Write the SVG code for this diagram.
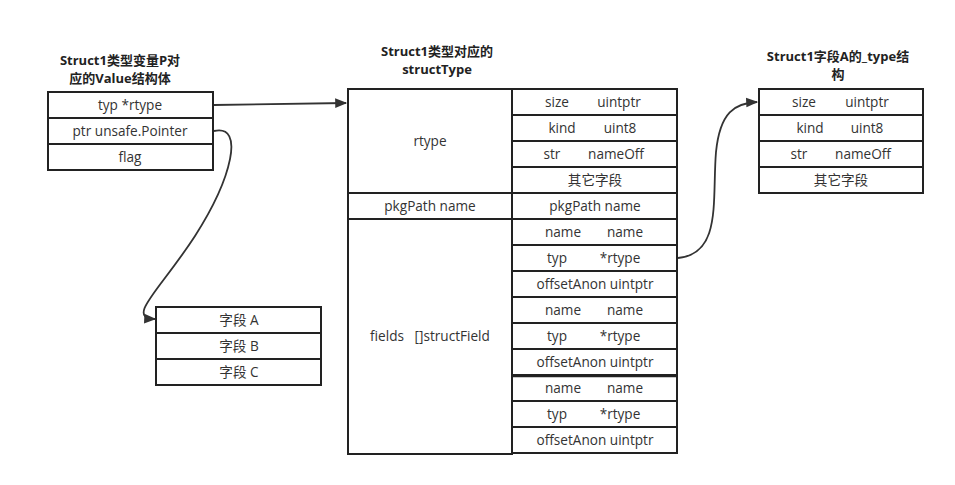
<svg xmlns="http://www.w3.org/2000/svg" width="955" height="485" viewBox="0 0 955 485">
<style>
text{font-family:"Open Sans","Noto Sans CJK SC",sans-serif;font-size:13.6px;fill:#333;text-anchor:middle}
.t{font-weight:bold;fill:#222;font-size:13px}
.c{fill:#fff;stroke:#222;stroke-width:2}
.ln{fill:none;stroke:#222;stroke-width:1.5}
.con{fill:none;stroke:#333;stroke-width:1.8}
</style>
<defs>
<marker id="ah2" viewBox="0 0 10 10" refX="9" refY="5" markerWidth="16" markerHeight="12" markerUnits="userSpaceOnUse" orient="auto"><path d="M0,1 L10,5 L0,9 z" fill="#333"/></marker>
</defs>
<rect width="955" height="485" fill="#fff"/>

<g id="valueStruct">
<text class="t" x="120" y="65">Struct1类型变量P对</text>
<text class="t" x="120" y="83">应的Value结构体</text>
<rect class="c" x="48" y="92" width="165" height="26"/>
<rect class="c" x="48" y="118" width="165" height="26"/>
<rect class="c" x="48" y="144" width="165" height="26"/>
<text x="130" y="110">typ *rtype</text>
<text x="130" y="136">ptr unsafe.Pointer</text>
<text x="130" y="162">flag</text>
</g>

<g id="structType">
<text class="t" x="437" y="56">Struct1类型对应的</text>
<text class="t" x="437" y="74">structType</text>
<rect class="c" x="348" y="89" width="164" height="104"/>
<rect class="c" x="348" y="193" width="164" height="26"/>
<rect class="c" x="348" y="219" width="164" height="235"/>
<text x="430" y="146">rtype</text>
<text x="430" y="211">pkgPath name</text>
<text x="430" y="341" xml:space="preserve">fields   []structField</text>
<g>
<rect class="c" x="512" y="89" width="165" height="26"/>
<rect class="c" x="512" y="115" width="165" height="26"/>
<rect class="c" x="512" y="141" width="165" height="26"/>
<rect class="c" x="512" y="167" width="165" height="26"/>
<rect class="c" x="512" y="193" width="165" height="26"/>
<rect class="c" x="512" y="219" width="165" height="26"/>
<rect class="c" x="512" y="245" width="165" height="26"/>
<rect class="c" x="512" y="271" width="165" height="26"/>
<rect class="c" x="512" y="297" width="165" height="26"/>
<rect class="c" x="512" y="323" width="165" height="26"/>
<rect class="c" x="512" y="349" width="165" height="26"/>
<rect class="c" x="512" y="375" width="165" height="26"/>
<rect class="c" x="512" y="401" width="165" height="26"/>
<rect class="c" x="512" y="427" width="165" height="26"/>
<line class="ln" x1="512" y1="376.5" x2="677" y2="376.5"/>
</g>
<text><tspan x="557" y="107">size</tspan><tspan x="619" y="107">uintptr</tspan></text>
<text><tspan x="562" y="133">kind</tspan><tspan x="620" y="133">uint8</tspan></text>
<text><tspan x="552" y="159">str</tspan><tspan x="616" y="159">nameOff</tspan></text>
<text x="595" y="185">其它字段</text>
<text x="595" y="211">pkgPath name</text>
<text><tspan x="563" y="237">name</tspan><tspan x="625" y="237">name</tspan></text>
<text><tspan x="557" y="263">typ</tspan><tspan x="620" y="263">*rtype</tspan></text>
<text x="595" y="289">offsetAnon uintptr</text>
<text><tspan x="563" y="315">name</tspan><tspan x="625" y="315">name</tspan></text>
<text><tspan x="557" y="341">typ</tspan><tspan x="620" y="341">*rtype</tspan></text>
<text x="595" y="367">offsetAnon uintptr</text>
<text><tspan x="563" y="393">name</tspan><tspan x="625" y="393">name</tspan></text>
<text><tspan x="557" y="419">typ</tspan><tspan x="620" y="419">*rtype</tspan></text>
<text x="595" y="445">offsetAnon uintptr</text>
</g>

<g id="fieldType">
<text class="t" x="838" y="61">Struct1字段A的_type结</text>
<text class="t" x="838" y="79">构</text>
<rect class="c" x="759" y="89" width="164" height="26"/>
<rect class="c" x="759" y="115" width="164" height="26"/>
<rect class="c" x="759" y="141" width="164" height="26"/>
<rect class="c" x="759" y="167" width="164" height="26"/>
<text><tspan x="804" y="107">size</tspan><tspan x="867" y="107">uintptr</tspan></text>
<text><tspan x="810" y="133">kind</tspan><tspan x="867" y="133">uint8</tspan></text>
<text><tspan x="799" y="159">str</tspan><tspan x="863" y="159">nameOff</tspan></text>
<text x="841" y="185">其它字段</text>
</g>

<g id="fields">
<rect class="c" x="156" y="307" width="165" height="26"/>
<rect class="c" x="156" y="333" width="165" height="26"/>
<rect class="c" x="156" y="359" width="165" height="26"/>
<text x="239" y="325">字段 A</text>
<text x="239" y="351">字段 B</text>
<text x="239" y="377">字段 C</text>
</g>

<g id="connectors">
<path class="con" d="M214,105 L346,103" marker-end="url(#ah2)"/>
<path class="con" d="M214,131 C245,124 232,178 195,236 C160,290 125,318 155,319" marker-end="url(#ah2)"/>
<path class="con" d="M678,258 C722,254 712,200 716,152 C720,112 735,103 757,102" marker-end="url(#ah2)"/>
</g>
</svg>
